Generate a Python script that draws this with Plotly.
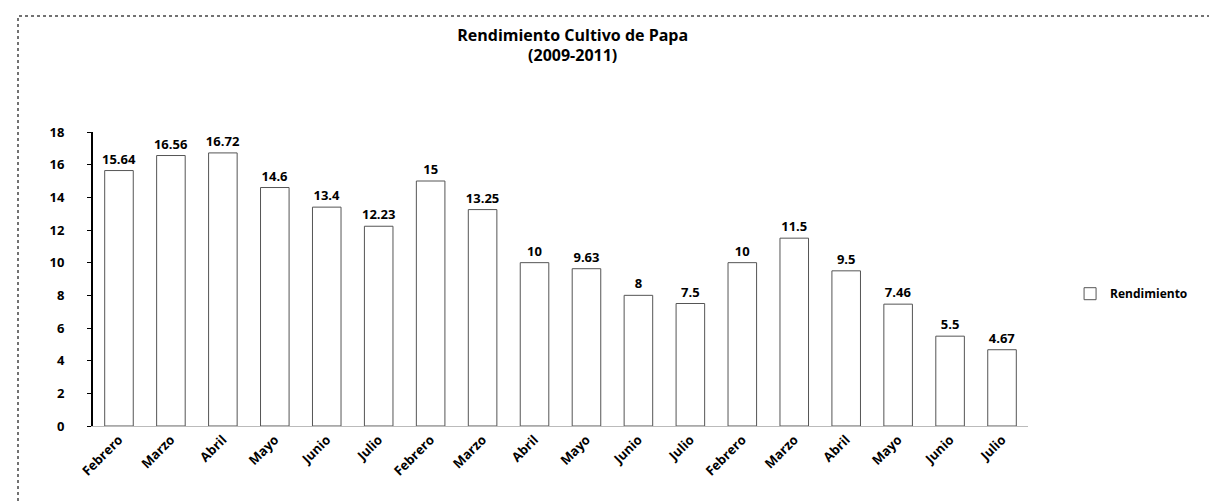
import plotly.graph_objects as go

months = ["Febrero", "Marzo", "Abril", "Mayo", "Junio", "Julio"] * 3
values = [15.64, 16.56, 16.72, 14.6, 13.4, 12.23,
          15, 13.25, 10, 9.63, 8, 7.5,
          10, 11.5, 9.5, 7.46, 5.5, 4.67]
positions = list(range(len(values)))
ytick_vals = [0, 2, 4, 6, 8, 10, 12, 14, 16, 18]

font_family = "Open Sans, Liberation Sans, Arial"

fig = go.Figure()
fig.add_trace(go.Bar(
    x=positions,
    y=values,
    name="<b>Rendimiento</b>",
    marker=dict(color="white", line=dict(color="#555555", width=1)),
    text=[f"<b>{v:g}</b>" for v in values],
    textposition="outside",
    constraintext="none",
    cliponaxis=False,
    textfont=dict(family=font_family, size=13, color="black"),
    showlegend=True,
))

fig.update_layout(
    width=1217, height=503,
    paper_bgcolor="white", plot_bgcolor="white",
    margin=dict(l=85, r=197, t=124, b=85),
    bargap=0.45,
    title=dict(
        text="<b>Rendimiento Cultivo de Papa<br>(2009-2011)</b>",
        x=0.464, xanchor="center", y=0.935, yanchor="top",
        font=dict(family=font_family, size=16, color="black"),
    ),
    font=dict(family=font_family, color="black"),
    legend=dict(
        x=1.045, y=0.45, xanchor="left", yanchor="middle",
        font=dict(family=font_family, size=12, color="black"),
        bgcolor="rgba(0,0,0,0)",
        itemwidth=30,
    ),
    xaxis=dict(
        tickmode="array", tickvals=positions, ticktext=[f"<b>{m}</b>" for m in months],
        tickangle=-45, tickfont=dict(size=13, color="black"),
        showgrid=False, zeroline=False, showline=True, linecolor="#bbbbbb",
        range=[-0.5, len(values) - 0.5],
    ),
    yaxis=dict(
        range=[0, 18], tickmode="array", tickvals=ytick_vals,
        ticktext=[f"<b>{v}</b>" for v in ytick_vals],
        tickfont=dict(size=13, color="black"),
        showgrid=False, zeroline=False, showline=True, linecolor="black", linewidth=2,
        ticks="outside", ticklen=4, tickcolor="black",
        ticklabelstandoff=20,
    ),
    shapes=[dict(
        type="rect", xref="paper", yref="paper",
        x0=-(85 - 10) / 935, x1=(1210 - 85) / 935,
        y0=-(498 - 418) / 294, y1=(418 - 8) / 294,
        line=dict(color="#444444", width=1.5, dash="dot"),
    )],
)

fig.write_html("out.html")
